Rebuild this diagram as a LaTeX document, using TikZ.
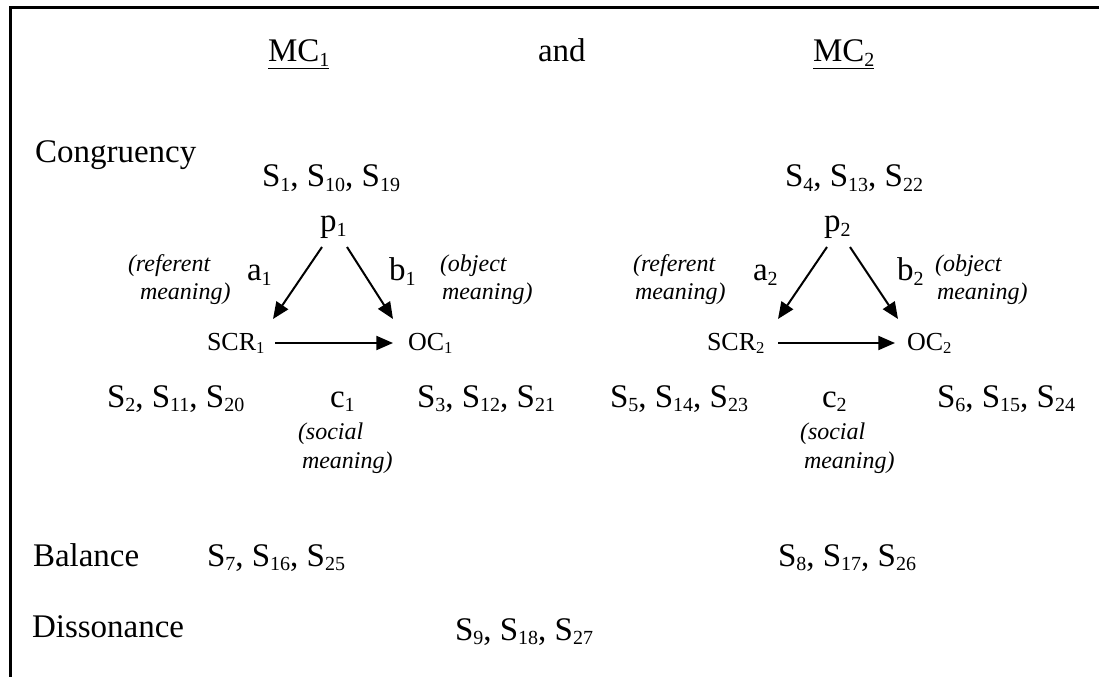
\documentclass[tikz,border=0pt]{standalone}
\usepackage{fontspec}
\setmainfont{Liberation Serif}
\usetikzlibrary{arrows.meta}
\newcommand{\bsub}[1]{\raisebox{-3.6pt}{\fontsize{15}{15}\selectfont #1}}
\newcommand{\msub}[1]{\raisebox{-2.8pt}{\fontsize{12.5}{12.5}\selectfont #1}}
\begin{document}
\begin{tikzpicture}[x=0.75pt,y=-0.75pt,
  every node/.style={inner sep=0pt, outer sep=0pt},
  big/.style={font=\fontsize{24.75}{28}\selectfont, anchor=base west},
  mid/.style={font=\fontsize{19.5}{22}\selectfont, anchor=base west},
  note/.style={font=\fontsize{18}{22}\selectfont\itshape, anchor=base west},
  arr/.style={-{Triangle[length=12.5pt,width=10.5pt]}, line width=1.5pt},
  frame/.style={line width=2pt}]
\useasboundingbox (0,0) rectangle (1099,677);
% frame
\coordinate (tl) at (10.5,7.5);
\coordinate (tr) at (1099,7.5);
\coordinate (bl) at (10.5,677);
\draw[frame] (tr) -- (tl) -- (bl);
% headings
\node[big] (mc1) at (268,62) {\underline{MC\bsub{1}}};
\node[big] (and) at (538,62) {and};
\node[big] (mc2) at (813,62) {\underline{MC\bsub{2}}};
\node[big] (cong) at (35,163) {Congruency};
\node[big] (bal) at (33,566) {Balance};
\node[big] (diss) at (32,637) {Dissonance};
% left triangle
\node[big] (s1) at (262,187) {S\bsub{1}, S\bsub{10}, S\bsub{19}};
\node[big] (p1) at (320,232) {p\bsub{1}};
\node[big] (a1) at (247,281) {a\bsub{1}};
\node[big] (b1) at (389,281) {b\bsub{1}};
\node[note] (ref1a) at (128,272) {(referent};
\node[note] (ref1b) at (140,300) {meaning)};
\node[note] (obj1a) at (440,272) {(object};
\node[note] (obj1b) at (442,300) {meaning)};
\node[mid] (scr1) at (207,350) {SCR\msub{1}};
\node[mid] (oc1) at (408,350) {OC\msub{1}};
\node[big] (s2) at (107,407) {S\bsub{2}, S\bsub{11}, S\bsub{20}};
\node[big] (c1) at (330,407) {c\bsub{1}};
\node[big] (s3) at (417,407) {S\bsub{3}, S\bsub{12}, S\bsub{21}};
\node[note] (soc1a) at (298,439) {(social};
\node[note] (soc1b) at (302,468) {meaning)};
% right triangle
\node[big] (s4) at (785,187) {S\bsub{4}, S\bsub{13}, S\bsub{22}};
\node[big] (p2) at (824,232) {p\bsub{2}};
\node[big] (a2) at (753,281) {a\bsub{2}};
\node[big] (b2) at (897,281) {b\bsub{2}};
\node[note] (ref2a) at (633,272) {(referent};
\node[note] (ref2b) at (635,300) {meaning)};
\node[note] (obj2a) at (935,272) {(object};
\node[note] (obj2b) at (937,300) {meaning)};
\node[mid] (scr2) at (707,350) {SCR\msub{2}};
\node[mid] (oc2) at (907,350) {OC\msub{2}};
\node[big] (s5) at (610,407) {S\bsub{5}, S\bsub{14}, S\bsub{23}};
\node[big] (c2) at (822,407) {c\bsub{2}};
\node[big] (s6) at (937,407) {S\bsub{6}, S\bsub{15}, S\bsub{24}};
\node[note] (soc2a) at (800,439) {(social};
\node[note] (soc2b) at (804,468) {meaning)};
% bottom rows
\node[big] (s7) at (207,566) {S\bsub{7}, S\bsub{16}, S\bsub{25}};
\node[big] (s8) at (778,566) {S\bsub{8}, S\bsub{17}, S\bsub{26}};
\node[big] (s9) at (455,640) {S\bsub{9}, S\bsub{18}, S\bsub{27}};
% arrows left
\draw[arr] ([shift={(2,15)}]p1.base west) -- ([shift={(66,-31)}]scr1.base west);
\draw[arr] ([shift={(27,15)}]p1.base west) -- ([shift={(-15,-31)}]oc1.base west);
\draw[arr] ([shift={(68,-7)}]scr1.base west) -- ([shift={(-15,-7)}]oc1.base west);
% arrows right
\draw[arr] ([shift={(3,15)}]p2.base west) -- ([shift={(71,-31)}]scr2.base west);
\draw[arr] ([shift={(26,15)}]p2.base west) -- ([shift={(-9,-31)}]oc2.base west);
\draw[arr] ([shift={(71,-7)}]scr2.base west) -- ([shift={(-12,-7)}]oc2.base west);
\end{tikzpicture}
\end{document}
